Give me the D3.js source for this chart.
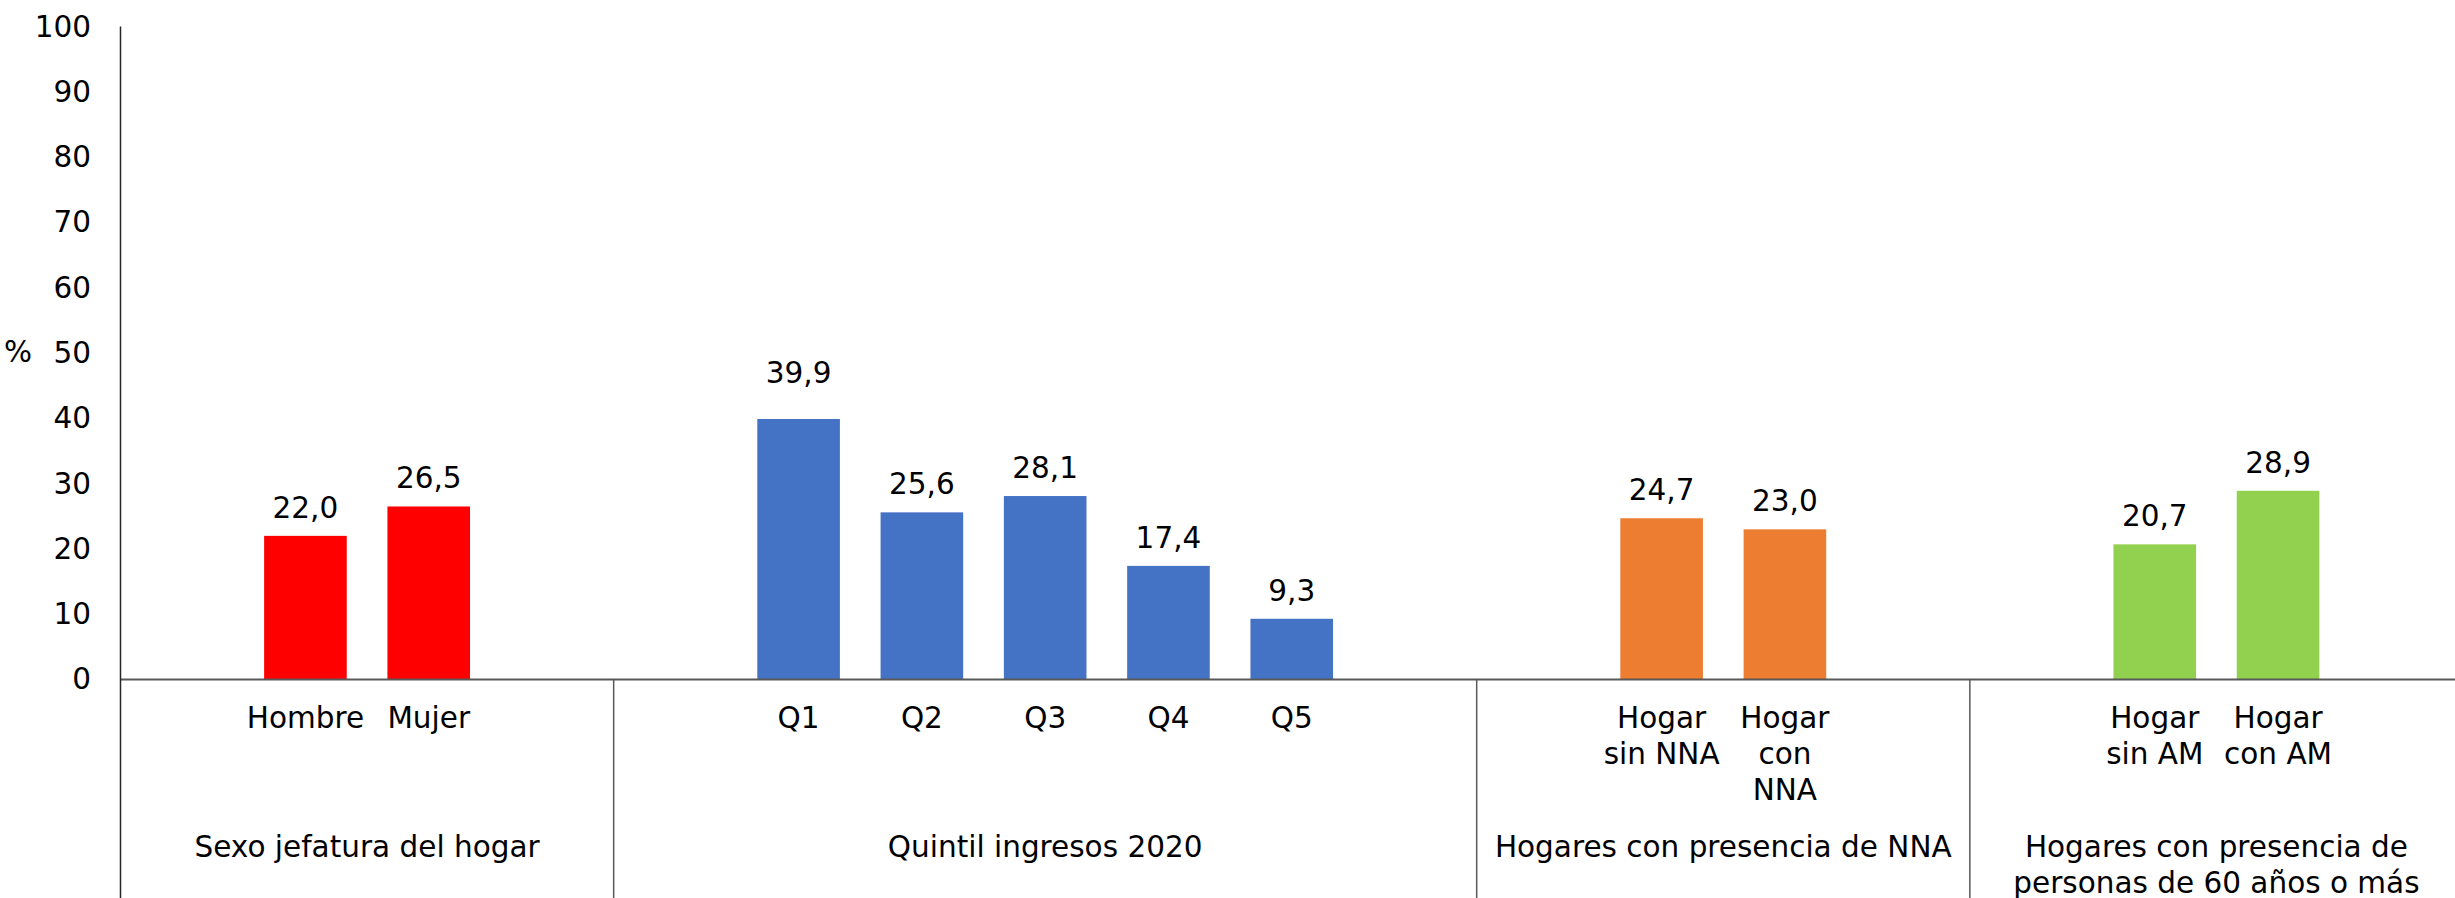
<!DOCTYPE html>
<html>
<head>
<meta charset="utf-8">
<script src="https://cdn.jsdelivr.net/npm/d3@7"></script>
<style>
  html, body { margin: 0; padding: 0; background: #fff; }
  svg { display: block; }
  text { font-family: Verdana, "DejaVu Sans", sans-serif; fill: #000; }
</style>
</head>
<body>
<svg id="chart"></svg>
<script>
// ── Data ──────────────────────────────────────────────────────────────────────
var groupNames = [
  "Sexo jefatura del hogar",
  "Quintil ingresos 2020",
  "Hogares con presencia de NNA",
  "Hogares con presencia de\npersonas de 60 años o más"
];
var groupSizes = [4, 7, 4, 4];
var groupColors = ["#FF0000", "#4472C4", "#ED7D31", "#92D050"];

var categories = [
  "", "Hombre", "Mujer", "",
  "", "Q1", "Q2", "Q3", "Q4", "Q5", "",
  "", "Hogar\nsin NNA", "Hogar\ncon\nNNA", "",
  "", "Hogar\nsin AM", "Hogar\ncon AM", ""
];
var values = [
  null, 22.0, 26.5, null,
  null, 39.9, 25.6, 28.1, 17.4, 9.3, null,
  null, 24.7, 23.0, null,
  null, 20.7, 28.9, null
];
var yTicks = [0, 10, 20, 30, 40, 50, 60, 70, 80, 90, 100];

(function () {
  "use strict";

  var W = 2455, H = 898;
  var left = 120.5, right = 2463, zeroY = 679.5, topY = 26.6;
  var fontSize = 29.5;

  var svg = d3.select("#chart").attr("width", W).attr("height", H);

  // group index for each category slot
  var groupOf = [];
  groupSizes.forEach(function (n, g) { for (var i = 0; i < n; i++) groupOf.push(g); });

  var rows = categories.map(function (c, i) {
    return { i: i, label: c, value: values[i], group: groupOf[i] };
  });

  var x = d3.scaleBand()
    .domain(d3.range(categories.length))
    .range([left, right])
    .paddingInner(0.33)
    .paddingOuter(0.165);

  var y = d3.scaleLinear().domain([0, 100]).range([zeroY, topY]);

  var step = x.step();
  function slotStart(i) { return x(i) - step * x.paddingInner() / 2; }

  var fmt = d3.formatLocale({ decimal: ",", thousands: ".", grouping: [3], currency: ["", ""] }).format(".1f");

  // ── Y axis ticks ─────────────────────────────────────────────────────────────
  var yAxis = d3.axisLeft(y).tickValues(yTicks).tickSize(0).tickPadding(29.5);
  var gy = svg.append("g").attr("transform", "translate(" + left + ",0)").call(yAxis);
  gy.select(".domain").remove();
  gy.selectAll("text")
    .attr("font-size", fontSize)
    .attr("font-family", "Verdana, 'DejaVu Sans', sans-serif")
    .attr("fill", "#000");

  svg.append("text")
    .attr("x", 18).attr("y", y(50))
    .attr("dy", "0.32em")
    .attr("text-anchor", "middle")
    .attr("font-size", fontSize)
    .text("%");

  // ── Bars ─────────────────────────────────────────────────────────────────────
  var barRows = rows.filter(function (d) { return d.value != null; });

  svg.append("g").selectAll("rect")
    .data(barRows)
    .join("rect")
    .attr("x", function (d) { return x(d.i); })
    .attr("width", x.bandwidth())
    .attr("y", function (d) { return y(d.value); })
    .attr("height", function (d) { return y(0) - y(d.value); })
    .attr("fill", function (d) { return groupColors[d.group]; });

  // value labels (Q1 label sits higher in the original)
  svg.append("g").selectAll("text")
    .data(barRows)
    .join("text")
    .attr("x", function (d) { return x(d.i) + x.bandwidth() / 2; })
    .attr("y", function (d) { return y(d.value) - (d.label === "Q1" ? 36 : 18); })
    .attr("text-anchor", "middle")
    .attr("font-size", fontSize)
    .text(function (d) { return fmt(d.value); });

  // ── Axis lines ───────────────────────────────────────────────────────────────
  svg.append("line")
    .attr("x1", left).attr("x2", W)
    .attr("y1", zeroY).attr("y2", zeroY)
    .attr("stroke", "#595959").attr("stroke-width", 2);

  svg.append("line")
    .attr("x1", left).attr("x2", left)
    .attr("y1", topY).attr("y2", H)
    .attr("stroke", "#262626").attr("stroke-width", 1.5);

  // group spans in slot indices
  var start = 0;
  var groupSpans = groupSizes.map(function (n) {
    var s = { from: start, to: start + n };
    start += n;
    return s;
  });
  function spanEnd(s) { return slotStart(s.to - 1) + step; }

  groupSpans.slice(1).forEach(function (s) {
    var sx = slotStart(s.from);
    svg.append("line")
      .attr("x1", sx).attr("x2", sx)
      .attr("y1", zeroY).attr("y2", H)
      .attr("stroke", "#595959").attr("stroke-width", 1.5);
  });

  // ── Category labels ──────────────────────────────────────────────────────────
  var lineH = 36;
  svg.append("g").selectAll("text")
    .data(rows.filter(function (d) { return d.label; }))
    .join("text")
    .attr("text-anchor", "middle")
    .attr("font-size", fontSize)
    .each(function (d) {
      var t = d3.select(this);
      d.label.split("\n").forEach(function (ln, k) {
        t.append("tspan")
          .attr("x", x(d.i) + x.bandwidth() / 2)
          .attr("y", 728 + k * lineH)
          .text(ln);
      });
    });

  // group labels
  svg.append("g").selectAll("text")
    .data(groupSpans)
    .join("text")
    .attr("text-anchor", "middle")
    .attr("font-size", fontSize)
    .each(function (s, g) {
      var t = d3.select(this);
      var cx = (slotStart(s.from) + spanEnd(s)) / 2;
      groupNames[g].split("\n").forEach(function (ln, k) {
        t.append("tspan")
          .attr("x", cx)
          .attr("y", 857 + k * lineH)
          .text(ln);
      });
    });
})();
</script>
</body>
</html>
